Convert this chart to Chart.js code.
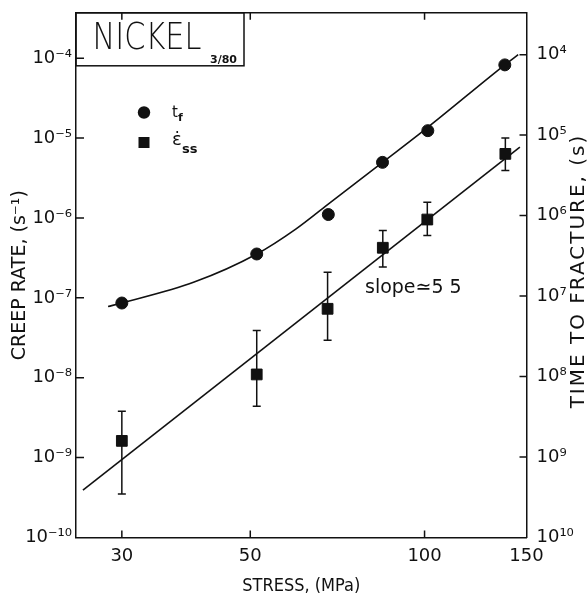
<!DOCTYPE html>
<html>
<head>
<meta charset="utf-8">
<script src="https://cdn.jsdelivr.net/npm/chart.js@4.4.1/dist/chart.umd.min.js"></script>
<style>
html,body{margin:0;padding:0;background:#fff;}
canvas{display:block;}
</style>
</head>
<body>
<canvas id="c" width="587" height="594"></canvas>
<script>
// ---- data ----
// time to fracture (right axis) vs stress
const tfStress = [30, 51.3, 68.2, 84.6, 101.3, 137.6];
const tfTime   = [1.22e7, 3.0e6, 9.7e5, 2.18e5, 8.8e4, 1.34e4];
// steady-state creep rate (left axis) vs stress, with error bars
const ssStress   = [30, 51.3, 68.0, 84.7, 101.1, 137.9];
const ssRate     = [1.62e-9, 1.1e-8, 7.3e-8, 4.24e-7, 9.57e-7, 6.35e-6];
const ssRateLow  = [3.5e-10, 4.4e-9, 2.95e-8, 2.43e-7, 6.03e-7, 3.93e-6];
const ssRateHigh = [3.8e-9, 3.9e-8, 2.1e-7, 6.98e-7, 1.58e-6, 1.0e-5];
// hand-drawn curve through the t_f points
const tfCurveStress = [28.4, 30, 40, 51.3, 60, 68, 84.6, 101.3, 137.6, 145.1];
const tfCurveTime   = [1.35e7, 1.22e7, 6.7e6, 3.0e6, 1.46e6, 7.3e5, 2.18e5, 8.0e4, 1.34e4, 1.0e4];
// fitted straight line through the creep-rate points (slope ~ 5.5)
const fitStress = [25.7, 146.1];
const fitRate   = [3.93e-10, 7.7e-6];
// tick labels
const xTickValues   = [30, 50, 100, 150];
const rateExponents = [-10, -9, -8, -7, -6, -5, -4];
const timeExponents = [4, 5, 6, 7, 8, 9, 10];

const INK = '#111';
const FONT = "'DejaVu Sans', 'Liberation Sans', sans-serif";
const NARROW = "'Liberation Sans Narrow', 'DejaVu Sans Condensed', 'DejaVu Sans', sans-serif";

const SUP = {'-':'\u207B','0':'\u2070','1':'\u00B9','2':'\u00B2','3':'\u00B3','4':'\u2074','5':'\u2075','6':'\u2076','7':'\u2077','8':'\u2078','9':'\u2079'};
function pow10Label(v) {
  const e = Math.round(Math.log10(v));
  return '10' + String(e).split('').map(c => SUP[c]).join('');
}
function pts(xs, ys) { return xs.map((v, i) => ({x: v, y: ys[i]})); }

const decor = {
  id: 'decor',
  beforeDatasetsDraw(chart) {
    const {ctx, scales: {x, y}} = chart;
    ctx.save();
    ctx.strokeStyle = INK;
    ctx.lineWidth = 1.5;
    ssStress.forEach((s, i) => {
      const px = x.getPixelForValue(s);
      const yl = y.getPixelForValue(ssRateLow[i]);
      const yh = y.getPixelForValue(ssRateHigh[i]);
      ctx.beginPath();
      ctx.moveTo(px, yl); ctx.lineTo(px, yh);
      ctx.moveTo(px - 4, yl); ctx.lineTo(px + 4, yl);
      ctx.moveTo(px - 4, yh); ctx.lineTo(px + 4, yh);
      ctx.stroke();
    });
    ctx.restore();
  },
  afterDraw(chart) {
    const {ctx, chartArea: a, scales: {x, y, y2}} = chart;
    ctx.save();
    ctx.strokeStyle = INK;
    ctx.fillStyle = INK;
    ctx.lineWidth = 1.5;
    // frame top edge
    ctx.beginPath();
    ctx.moveTo(a.left, a.top); ctx.lineTo(a.right, a.top);
    ctx.stroke();
    // inward tick marks
    ctx.beginPath();
    xTickValues.filter(v => v < 150).forEach(v => {
      const px = x.getPixelForValue(v);
      ctx.moveTo(px, a.bottom); ctx.lineTo(px, a.bottom - 7);
      ctx.moveTo(px, a.top); ctx.lineTo(px, a.top + 7);
    });
    rateExponents.filter(e => e > -10).forEach(e => {
      const py = y.getPixelForValue(Math.pow(10, e));
      ctx.moveTo(a.left, py); ctx.lineTo(a.left + 8, py);
    });
    timeExponents.filter(e => e < 10).forEach(e => {
      const py = y2.getPixelForValue(Math.pow(10, e));
      ctx.moveTo(a.right, py); ctx.lineTo(a.right - 7, py);
    });
    ctx.stroke();

    // title box
    ctx.strokeRect(a.left, a.top, 168, 53);
    ctx.font = "200 37px " + FONT;
    ctx.textBaseline = 'alphabetic';
    ctx.textAlign = 'left';
    const w = ctx.measureText('NICKEL').width;
    ctx.save();
    ctx.translate(a.left + 16.5, a.top + 36.5);
    ctx.scale(109 / w, 1);
    ctx.fillText('NICKEL', 0, 0);
    ctx.restore();
    ctx.font = "bold 11px " + FONT;
    ctx.fillText('3/80', a.left + 134, a.top + 50);

    // legend
    ctx.beginPath();
    ctx.arc(144, 112.5, 6.2, 0, Math.PI * 2);
    ctx.fill();
    ctx.fillRect(138.5, 137, 11, 11);
    ctx.font = "15px " + FONT;
    ctx.fillText('t', 172, 117);
    ctx.font = "bold 11px " + FONT;
    ctx.fillText('f', 178, 121);
    ctx.font = "18px " + FONT;
    ctx.fillText('\u03B5\u0307', 172, 145);
    ctx.font = "bold 13px " + FONT;
    ctx.fillText('ss', 182, 153);

    // slope annotation
    ctx.font = "19px " + FONT;
    ctx.fillText('slope\u22435 5', 365, 293);

    // right axis title (reads bottom to top)
    ctx.save();
    ctx.translate(chart.width - 8, 271);
    ctx.rotate(-Math.PI / 2);
    ctx.font = "20px " + FONT;
    ctx.letterSpacing = '2px';
    ctx.textAlign = 'center';
    ctx.textBaseline = 'middle';
    ctx.fillText('TIME TO FRACTURE, (s)', 0, 0);
    ctx.restore();
    ctx.restore();
  }
};

new Chart(document.getElementById('c'), {
  type: 'scatter',
  data: {
    datasets: [
      {
        label: 't_f',
        data: pts(tfStress, tfTime),
        yAxisID: 'y2',
        pointStyle: 'circle',
        pointRadius: 6,
        borderWidth: 1,
        backgroundColor: INK,
        borderColor: INK,
        showLine: false
      },
      {
        label: 't_f curve',
        data: pts(tfCurveStress, tfCurveTime),
        yAxisID: 'y2',
        showLine: true,
        pointRadius: 0,
        borderWidth: 1.6,
        borderColor: INK,
        cubicInterpolationMode: 'monotone',
        fill: false
      },
      {
        label: 'creep rate',
        data: pts(ssStress, ssRate),
        yAxisID: 'y',
        pointStyle: 'rect',
        pointRadius: 7.6,
        borderWidth: 1,
        backgroundColor: INK,
        borderColor: INK,
        showLine: false
      },
      {
        label: 'fit',
        data: pts(fitStress, fitRate),
        yAxisID: 'y',
        showLine: true,
        pointRadius: 0,
        borderWidth: 1.6,
        borderColor: INK,
        fill: false
      }
    ]
  },
  options: {
    responsive: false,
    animation: false,
    devicePixelRatio: 1,
    layout: {padding: {top: 12, left: 0, right: 0, bottom: 0}},
    plugins: {legend: {display: false}, tooltip: {enabled: false}},
    scales: {
      x: {
        type: 'logarithmic',
        position: 'bottom',
        min: 25,
        max: 150,
        afterBuildTicks: s => { s.ticks = xTickValues.map(v => ({value: v})); },
        afterFit: s => { s.height = 56.5; },
        grid: {display: false},
        border: {display: true, color: INK, width: 1.5},
        ticks: {
          autoSkip: false, maxRotation: 0, padding: 0,
          color: INK, font: {family: FONT, size: 18},
          callback: v => String(v)
        },
        title: {
          display: true, text: 'STRESS, (MPa)', color: INK,
          font: {family: NARROW, size: 18, lineHeight: 0.9},
          padding: {top: 0, bottom: 0}
        }
      },
      y: {
        type: 'logarithmic',
        position: 'left',
        min: 1e-10,
        max: Math.pow(10, -3.431),
        afterBuildTicks: s => { s.ticks = rateExponents.map(e => ({value: Math.pow(10, e)})); },
        afterFit: s => { s.width = 76; },
        grid: {display: false},
        border: {display: true, color: INK, width: 1.5},
        ticks: {
          autoSkip: false, padding: -4,
          color: INK, font: {family: FONT, size: 18},
          callback: v => pow10Label(v)
        },
        title: {
          display: true, text: 'CREEP RATE, (s\u207B\u00B9)', color: INK,
          font: {family: FONT, size: 19, lineHeight: 1.2},
          padding: {top: 9, bottom: 0}
        }
      },
      y2: {
        type: 'logarithmic',
        position: 'right',
        reverse: true,
        min: Math.pow(10, 3.48),
        max: 1e10,
        afterBuildTicks: s => { s.ticks = timeExponents.map(e => ({value: Math.pow(10, e)})); },
        afterFit: s => { s.width = 60.5; },
        grid: {display: false},
        border: {display: true, color: INK, width: 1.5},
        ticks: {
          autoSkip: false, padding: 2,
          color: INK, font: {family: FONT, size: 18},
          callback: v => pow10Label(v)
        }
      }
    }
  },
  plugins: [decor]
});
</script>
</body>
</html>
